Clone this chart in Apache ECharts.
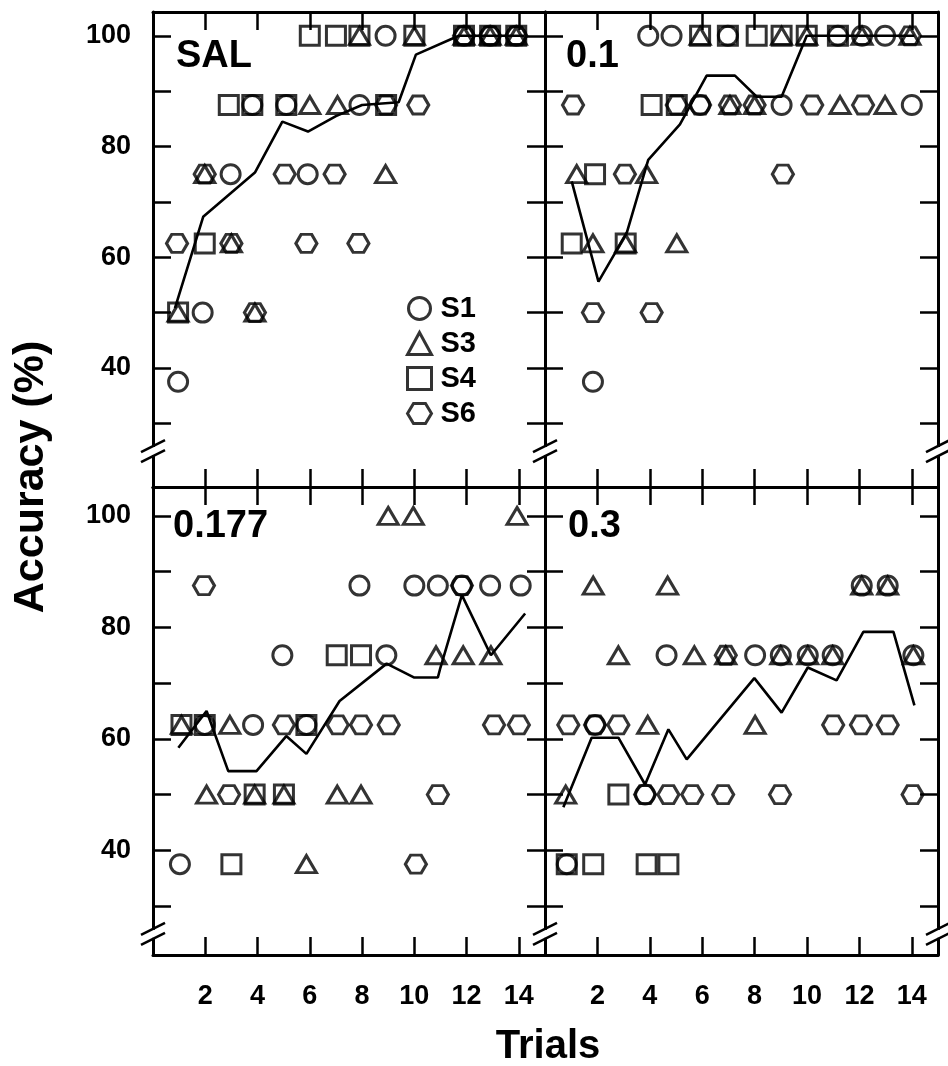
<!DOCTYPE html>
<html><head><meta charset="utf-8">
<script src="https://cdn.jsdelivr.net/npm/echarts@6/dist/echarts.min.js"></script>
<style>html,body{margin:0;padding:0;background:#fff}#c{width:948px;height:1066px}</style>
</head><body><div id="c"></div>
<script>
// ---- tick labels ----
const X_TICKS = [2, 4, 6, 8, 10, 12, 14];
const Y_TICKS = [30, 40, 50, 60, 70, 80, 90, 100];
const Y_LABELS = [40, 60, 80, 100];
const PANEL_NAMES = ['SAL', '0.1', '0.177', '0.3'];
const SUBJECTS = ['S1', 'S3', 'S4', 'S6'];

// ---- SAL ----
const SAL_S1 = [[0.96,37.5],[1.9,50],[2.97,75],[3.8,87.5],[5.1,87.5],[5.92,75],[7.9,87.5],[8.9,100],[11.9,100],[12.9,100],[13.9,100]];
const SAL_S3 = [[0.96,50],[1.98,75],[3.0,62.5],[3.9,50],[6.0,87.5],[7.06,87.5],[7.9,100],[8.9,75],[10.0,100],[11.9,100],[12.9,100],[13.9,100]];
const SAL_S4 = [[0.96,50],[1.98,62.5],[2.9,87.5],[3.8,87.5],[5.1,87.5],[6.0,100],[7.0,100],[7.9,100],[8.92,87.5],[10.0,100],[11.9,100],[12.9,100],[13.9,100]];
const SAL_S6 = [[0.92,62.5],[1.98,75],[3.0,62.5],[3.9,50],[5.04,75],[5.87,62.5],[6.95,75],[7.86,62.5],[8.92,87.5],[10.15,87.5],[11.9,100],[12.9,100],[13.9,100]];
const SAL_MEAN = [[0.84,50.8],[1.92,67.3],[3.9,75.3],[4.95,84.5],[5.93,82.7],[7.0,85.5],[8.0,87.5],[9.4,88],[10.06,96.6],[11.7,100],[14.2,100]];

// ---- 0.1 ----
const D01_S1 = [[1.83,37.5],[3.94,100],[4.83,100],[5.92,87.5],[6.98,100],[9.03,87.5],[11.18,100],[12.1,100],[12.98,100],[14.0,87.5]];
const D01_S3 = [[1.21,75],[1.83,62.5],[3.08,62.5],[3.88,75],[5.03,62.5],[5.92,100],[7.06,87.5],[8.0,87.5],[9.03,100],[9.99,100],[11.26,87.5],[12.1,100],[12.98,87.5],[13.93,100]];
const D01_S4 = [[1.02,62.5],[1.91,75],[3.08,62.5],[4.07,87.5],[5.03,87.5],[5.92,100],[6.98,100],[8.08,100],[9.03,100],[9.99,100],[11.18,100]];
const D01_S6 = [[1.07,87.5],[1.83,50],[3.05,75],[4.07,50],[5.03,87.5],[5.92,87.5],[7.06,87.5],[8.0,87.5],[9.08,75],[10.2,87.5],[12.14,87.5],[13.93,100]];
const D01_MEAN = [[1.02,73.7],[2.04,55.6],[3.12,64.4],[3.94,77.6],[5.15,84],[6.17,92.8],[7.25,92.8],[8.08,89],[9.03,89],[9.99,100],[14.1,100]];

// ---- 0.177 ----
const D0177_S1 = [[1.03,37.5],[1.98,62.5],[3.83,62.5],[4.95,75],[5.87,62.5],[7.9,87.5],[8.93,75],[10.0,87.5],[10.9,87.5],[11.82,87.5],[12.9,87.5],[14.07,87.5]];
const D0177_S3 = [[1.09,62.5],[2.05,50],[2.94,62.5],[3.89,50],[5.01,50],[5.87,37.5],[7.05,50],[7.96,50],[9.0,100],[9.96,100],[10.83,75],[11.87,75],[12.93,75],[13.93,100]];
const D0177_S4 = [[1.09,62.5],[1.98,62.5],[3.0,37.5],[3.89,50],[5.01,50],[5.87,62.5],[7.03,75],[7.96,75]];
const D0177_S6 = [[1.95,87.5],[2.91,50],[5.01,62.5],[7.07,62.5],[7.96,62.5],[9.02,62.5],[10.06,37.5],[10.9,50],[11.82,87.5],[13.05,62.5],[14.0,62.5]];
const D0177_MEAN = [[0.97,58.4],[2.05,65],[2.88,54.2],[3.96,54.2],[5.1,60.5],[5.87,57.3],[7.14,66.8],[8.94,73.5],[10.0,71],[10.9,71],[11.0,72.8],[11.82,85.8],[12.93,75],[14.24,82.5]];

// ---- 0.3 ----
const D03_S1 = [[0.83,37.5],[1.91,62.5],[3.82,50],[4.64,75],[8.02,75],[9.0,75],[10.03,75],[10.98,75],[12.09,87.5],[13.08,87.5],[14.06,75]];
const D03_S3 = [[0.79,50],[1.84,87.5],[2.8,75],[3.92,62.5],[4.68,87.5],[5.7,75],[6.9,75],[8.02,62.5],[9.0,75],[10.03,75],[10.98,75],[12.09,87.5],[13.08,87.5],[14.06,75]];
const D03_S4 = [[0.83,37.5],[1.84,37.5],[2.8,50],[3.88,37.5],[4.71,37.5]];
const D03_S6 = [[0.89,62.5],[1.91,62.5],[2.8,62.5],[3.82,50],[4.71,50],[5.62,50],[6.8,50],[6.9,75],[8.97,50],[11.0,62.5],[12.06,62.5],[13.08,62.5],[14.03,50]];
const D03_MEAN = [[0.7,47.7],[1.78,60.2],[2.8,60.2],[3.82,51.8],[4.71,61.7],[5.41,56.3],[7.99,70.9],[9.03,64.7],[10.03,72.8],[11.13,70.5],[12.15,79.2],[13.3,79.2],[14.1,66]];

const PANELS = [
  [SAL_S1, SAL_S3, SAL_S4, SAL_S6, SAL_MEAN],
  [D01_S1, D01_S3, D01_S4, D01_S6, D01_MEAN],
  [D0177_S1, D0177_S3, D0177_S4, D0177_S6, D0177_MEAN],
  [D03_S1, D03_S3, D03_S4, D03_S6, D03_MEAN]
];

// ---- layout / style ----
const FONT = '"Liberation Sans", Arial, Helvetica, sans-serif';
const GRIDS = [
  {left:153, top:12, width:392, height:475},
  {left:545, top:12, width:393, height:475},
  {left:153, top:487, width:392, height:468},
  {left:545, top:487, width:393, height:468}
];
const Y_RANGE = [[18.5,104.3],[18.5,104.3],[21.2,105.2],[21.2,105.2]];
const HEX = 'path://M0,5L3,0L9,0L12,5L9,10L3,10Z';
const SYMBOLS = ['circle', 'triangle', 'rect', HEX];
const SYMBOL_SIZES = [19, [20,17], [19,19], [21,18]];

const chart = echarts.init(document.getElementById('c'), null, {renderer:'canvas'});

const lineAxis = {show:true, onZero:false, lineStyle:{color:'#000', width:3}};
const tickStyle = {color:'#000', width:2.5};
const labelFont = {color:'#000', fontSize:27, fontWeight:'bold', fontFamily:FONT};
const markStyle = {color:'rgba(0,0,0,0)', borderColor:'#000', borderWidth:3};

const xAxis = [], yAxis = [], series = [];
GRIDS.forEach((g, i) => {
  ['bottom','top'].forEach(pos => {
    xAxis.push({
      type:'value', gridIndex:i, min:0, max:15, interval:2, position:pos,
      axisLine:lineAxis,
      axisTick:{show:true, inside:true, length:18, lineStyle:tickStyle, customValues:X_TICKS},
      axisLabel:Object.assign({show: pos==='bottom' && i>=2, margin:28, customValues:X_TICKS,
        formatter: v => (v === 0 ? '' : String(v))}, labelFont),
      splitLine:{show:false}
    });
  });
  ['left','right'].forEach(pos => {
    yAxis.push({
      type:'value', gridIndex:i, min:Y_RANGE[i][0], max:Y_RANGE[i][1], position:pos,
      axisLine:lineAxis,
      axisTick:{show:true, inside:true, length:18, lineStyle:tickStyle, customValues:Y_TICKS},
      axisLabel:Object.assign({show: pos==='left' && (i===0 || i===2), margin:22, customValues:Y_LABELS,
        formatter: v => (Y_LABELS.indexOf(v) >= 0 ? String(v) : '')}, labelFont),
      splitLine:{show:false}
    });
  });
  const sets = PANELS[i];
  SUBJECTS.forEach((name, k) => {
    series.push({
      type:'scatter', name, xAxisIndex:2*i, yAxisIndex:2*i, data:sets[k],
      symbol:SYMBOLS[k], symbolSize:SYMBOL_SIZES[k],
      itemStyle:markStyle,
      emphasis:{disabled:true}, silent:true, z:3
    });
  });
  series.push({
    type:'line', name:'mean', xAxisIndex:2*i, yAxisIndex:2*i, data:sets[4],
    symbol:'none', showSymbol:false, lineStyle:{color:'#000', width:2.6},
    emphasis:{disabled:true}, silent:true, z:2
  });
});

chart.setOption({
  animation:false,
  backgroundColor:'#fff',
  grid:GRIDS.map(g => Object.assign({containLabel:false}, g)),
  xAxis, yAxis, series,
  legend:{
    data:SUBJECTS, orient:'vertical', left:401, top:289,
    itemWidth:24, itemHeight:22, itemGap:6, selectedMode:false,
    itemStyle:markStyle,
    textStyle:{fontSize:29, fontWeight:'bold', fontFamily:FONT, color:'#000', padding:[0,0,0,4]}
  }
});

// ---- decorations: labels, axis titles, axis breaks ----
const graphics = [];
const titlePos = [[176,57],[566,57],[173,527],[568,527]];
PANEL_NAMES.forEach((t, i) => {
  graphics.push({type:'text', x:titlePos[i][0], y:titlePos[i][1], z:100,
    style:{text:t, font:'bold 38px ' + FONT, fill:'#000', align:'left', verticalAlign:'middle'}});
});
graphics.push({type:'text', x:31, y:477, rotation:Math.PI/2, z:100,
  style:{text:'Accuracy (%)', font:'bold 43px ' + FONT, fill:'#000', align:'center', verticalAlign:'middle'}});
graphics.push({type:'text', x:548, y:1047, z:100,
  style:{text:'Trials', font:'bold 40px ' + FONT, fill:'#000', align:'center', verticalAlign:'middle'}});

// break marks on the vertical frame lines, placed at value 25 of each row
[[0,1],[2,3]].forEach(([a,b]) => {
  const pl = chart.convertToPixel({xAxisIndex:2*a, yAxisIndex:2*a}, [0, 25]);
  const pm = chart.convertToPixel({xAxisIndex:2*b, yAxisIndex:2*b}, [0, 25]);
  const pr = chart.convertToPixel({xAxisIndex:2*b, yAxisIndex:2*b}, [15, 25]);
  [pl[0], pm[0], pr[0]].forEach(cx => {
    const cy = pl[1];
    graphics.push({type:'rect', z:100, shape:{x:cx-3, y:cy-4, width:6, height:8}, style:{fill:'#fff'}});
    [-5, 5].forEach(d => {
      graphics.push({type:'line', z:101, shape:{x1:cx-12, y1:cy+d+6, x2:cx+12, y2:cy+d-6},
        style:{stroke:'#000', lineWidth:2.5}});
    });
  });
});
chart.setOption({graphic:graphics});
</script>
</body></html>
